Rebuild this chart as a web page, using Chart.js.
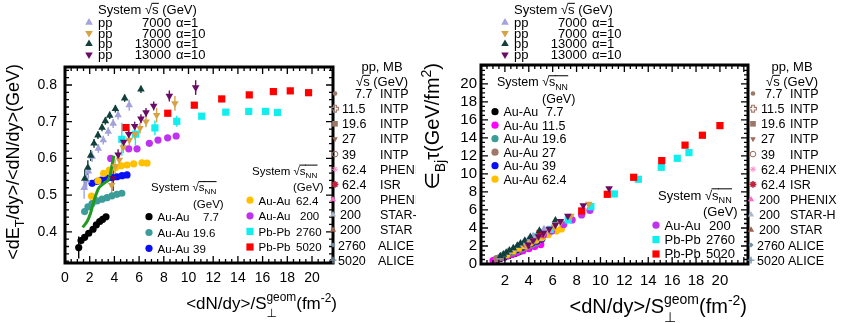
<!DOCTYPE html>
<html>
<head>
<meta charset="utf-8">
<title>Transverse energy per particle and Bjorken energy density</title>
<script src="https://cdn.jsdelivr.net/npm/chart.js@4.4.1/dist/chart.umd.min.js"></script>
<style>
  body { margin: 0; background: #fff; }
  .panel { position: absolute; top: 0; }
</style>
</head>
<body>
<canvas id="left" class="panel" style="left:0;width:416px;height:323px" width="416" height="323"></canvas>
<canvas id="right" class="panel" style="left:416px;width:430px;height:323px" width="430" height="323"></canvas>
<script>
// ---------- left panel: <dE_T/dy>/<dN/dy> (GeV) vs <dN/dy>/S (fm^-2) ----------
const pp13a10_x = [3.9, 4.3, 4.75, 5.16, 5.64, 6.15, 6.56, 7.18, 8.45, 10.58];
const pp13a10_y = [0.546, 0.61, 0.645, 0.666, 0.688, 0.708, 0.725, 0.743, 0.77, 0.793];
const pp13a10_e = [0.035, 0.015, 0.012, 0.012, 0.012, 0.012, 0.012, 0.012, 0.015, 0.02];
const pp13a1_x = [1.6, 1.85, 2.08, 2.35, 2.67, 3.0, 3.27, 3.62, 4.08, 4.83, 6.15];
const pp13a1_y = [0.545, 0.575, 0.608, 0.641, 0.663, 0.684, 0.702, 0.717, 0.735, 0.764, 0.788];
const pp13a1_e = [0.025, 0.02, 0.015, 0.012, 0.01, 0.01, 0.01, 0.01, 0.01, 0.01, 0.01];
const pp7a10_x = [3.78, 4.05, 4.4, 4.72, 5.21, 5.67, 6.07, 6.56, 7.42, 8.9];
const pp7a10_y = [0.527, 0.578, 0.596, 0.63, 0.65, 0.666, 0.682, 0.7, 0.718, 0.75];
const pp7a10_e = [0.035, 0.02, 0.02, 0.015, 0.015, 0.015, 0.015, 0.015, 0.02, 0.02];
const pp7a1_x = [1.55, 1.75, 1.9, 2.2, 2.7, 3.1, 3.5, 3.9, 4.3, 5.2];
const pp7a1_y = [0.52, 0.54, 0.565, 0.605, 0.627, 0.65, 0.673, 0.695, 0.718, 0.745];
const pp7a1_e = [0.03, 0.025, 0.02, 0.015, 0.012, 0.012, 0.012, 0.012, 0.012, 0.015];
const ppMB_x = [1.43, 1.79, 2.06, 2.25, 2.46, 2.73, 3.14, 3.49, 3.68, 3.81, 3.95];
const ppMB_y = [0.412, 0.428, 0.45, 0.473, 0.496, 0.519, 0.532, 0.541, 0.559, 0.582, 0.607];
const pb5020_x = [4.94, 8.32, 10.47, 12.69, 14.92, 16.87, 18.24, 19.72];
const pb5020_y = [0.684, 0.723, 0.745, 0.762, 0.773, 0.782, 0.784, 0.779];
const pb2760_x = [4.6, 5.7, 7.28, 9.05, 11.07, 13.02, 14.88, 16.23, 17.2];
const pb2760_y = [0.652, 0.666, 0.683, 0.701, 0.715, 0.726, 0.728, 0.728, 0.725];
const pb2760_e = [0.045, 0.03, 0.02, 0.015, 0.008, 0.008, 0.008, 0.008, 0.008];
const au200_x = [3.7, 5.16, 5.83, 6.83, 7.53, 8.31, 9.0];
const au200_y = [0.6, 0.626, 0.626, 0.641, 0.65, 0.656, 0.661];
const au62_x = [2.15, 2.67, 3.13, 3.6, 4.1, 4.55, 5.02, 5.56, 6.23, 6.64];
const au62_y = [0.497, 0.539, 0.559, 0.568, 0.575, 0.58, 0.582, 0.585, 0.588, 0.587];
const au39_x = [2.19, 2.59, 2.94, 3.4, 3.8, 4.21, 4.62, 5.02];
const au39_y = [0.532, 0.537, 0.541, 0.546, 0.548, 0.55, 0.553, 0.555];
const au19_x = [1.59, 1.86, 2.19, 2.59, 3.0, 3.4, 3.8, 4.2, 4.6];
const au19_y = [0.455, 0.468, 0.477, 0.484, 0.489, 0.493, 0.498, 0.502, 0.505];
const au7_x = [1.11, 1.3, 1.59, 1.92, 2.27, 2.54, 2.81, 3.05, 3.32];
const au7_y = [0.357, 0.376, 0.385, 0.396, 0.407, 0.419, 0.428, 0.434, 0.441];
const au7_e = [0.03, 0.01, 0, 0, 0, 0, 0, 0, 0];

// ---------- right panel: Bjorken energy density x tau (GeV/fm^2) ----------
const rPp13a10_x = [3.95, 4.36, 4.81, 5.23, 5.71, 6.23, 6.65, 7.27, 8.56, 10.72];
const rPp13a10_y = [2.13, 2.62, 3.06, 3.44, 3.88, 4.35, 4.76, 5.33, 6.51, 8.39];
const rPp7a10_x = [3.83, 4.1, 4.46, 4.78, 5.28, 5.74, 6.15, 6.65, 7.52, 9.02];
const rPp7a10_y = [1.99, 2.34, 2.62, 2.97, 3.39, 3.78, 4.14, 4.59, 5.33, 6.68];
const rPp13a1_x = [1.62, 1.87, 2.11, 2.38, 2.7, 3.04, 3.31, 3.67, 4.13, 4.89, 6.23];
const rPp13a1_y = [0.87, 1.06, 1.26, 1.51, 1.77, 2.05, 2.3, 2.6, 3.0, 3.69, 4.85];
const rPp7a1_x = [1.57, 1.77, 1.92, 2.23, 2.74, 3.14, 3.55, 3.95, 4.36, 5.27];
const rPp7a1_y = [0.81, 0.95, 1.07, 1.33, 1.69, 2.02, 2.36, 2.71, 3.09, 3.87];
const rPb5020_x = [4.95, 8.43, 10.57, 12.78, 15.13, 17.08, 18.53, 20.0];
const rPb5020_y = [3.4, 5.89, 7.74, 9.63, 11.48, 13.2, 14.3, 15.37];
const rPb2760_x = [4.65, 5.8, 7.3, 9.2, 11.16, 13.17, 15.09, 16.43, 17.41];
const rPb2760_y = [3.05, 3.85, 4.89, 6.37, 7.78, 9.41, 10.74, 11.74, 12.37];
const rAu200_x = [3.75, 5.23, 5.9, 6.92, 7.63, 8.42, 9.12];
const rAu200_y = [2.22, 3.23, 3.65, 4.38, 4.89, 5.45, 5.95];
const rAu62_x = [2.18, 2.7, 3.17, 3.65, 4.15, 4.61, 5.09, 5.63, 6.31, 6.73];
const rAu62_y = [1.07, 1.44, 1.75, 2.04, 2.36, 2.64, 2.92, 3.25, 3.66, 3.9];
const rAu39_x = [2.22, 2.62, 2.98, 3.44, 3.85, 4.26, 4.68, 5.09];
const rAu39_y = [1.17, 1.39, 1.59, 1.86, 2.08, 2.32, 2.55, 2.79];
const rAu27_x = [1.3, 1.6, 1.9, 2.3, 2.7, 3.1, 3.5, 3.9, 4.3, 4.7];
const rAu27_y = [0.6, 0.75, 0.91, 1.12, 1.33, 1.54, 1.76, 1.97, 2.19, 2.41];
const rAu19_x = [1.61, 1.88, 2.22, 2.62, 3.04, 3.44, 3.85, 4.25, 4.66];
const rAu19_y = [0.72, 0.87, 1.04, 1.25, 1.47, 1.68, 1.89, 2.11, 2.32];
const rAu11_x = [1.0, 1.4, 1.8, 2.2, 2.6, 3.0, 3.5, 4.0, 4.5, 5.0];
const rAu11_y = [0.38, 0.55, 0.72, 0.9, 1.07, 1.25, 1.47, 1.7, 1.93, 2.16];
const rAu7_x = [1.12, 1.32, 1.61, 1.95, 2.3, 2.57, 2.85, 3.09, 3.36];
const rAu7_y = [0.4, 0.49, 0.61, 0.76, 0.92, 1.06, 1.2, 1.32, 1.46];

// legend texts
const alphaRows = [['7000', 'α=1'], ['7000', 'α=10'], ['13000', 'α=1'], ['13000', 'α=10']];
const mbEnergies = ['7.7', '11.5', '19.6', '27', '39', '62.4', '62.4', '200', '200', '200', '2760', '5020'];
const mbSources = ['INTP', 'INTP', 'INTP', 'INTP', 'INTP', 'PHENIX', 'ISR', 'PHENIX', 'STAR-H', 'STAR', 'ALICE', 'ALICE'];

const FONT = '"Liberation Sans", Arial, "DejaVu Sans", sans-serif';

// marker looks
const M = {
  pp7a1:  { color: '#a3a3dc', style: 'triangle', r: 4.4 },
  pp7a10: { color: '#d6a244', style: 'triangle', rot: 180, r: 4.4 },
  pp13a1: { color: '#11403b', style: 'triangle', r: 4.4 },
  pp13a10:{ color: '#6a0b66', style: 'triangle', rot: 180, r: 4.4 },
  au7:    { color: '#000000', style: 'circle', r: 3.6 },
  au11:   { color: '#ff00ff', style: 'circle', r: 3.6 },
  au19:   { color: '#3c9c98', style: 'circle', r: 3.6 },
  au27:   { color: '#a07868', style: 'circle', r: 3.6 },
  au39:   { color: '#0a10f5', style: 'circle', r: 3.6 },
  au62:   { color: '#ffc000', style: 'circle', r: 3.6 },
  au200:  { color: '#c032f0', style: 'circle', r: 3.6 },
  pb2760: { color: '#11eeee', style: 'rect', r: 5.1 },
  pb5020: { color: '#ff0000', style: 'rect', r: 5.1 }
};
const mbMarks = [
  { color: '#9c7868', style: 'circle', r: 2.3 },
  { color: '#a87c6c', style: 'ocross', r: 3.4, bw: 1.2 },
  { color: '#9c7868', style: 'rect', r: 4 },
  { color: '#9c6a5a', style: 'triangle', rot: 180, r: 3.2 },
  { color: '#9c6a5a', style: 'circle', r: 2.8, open: true, bw: 1 },
  { color: '#ff8acb', style: 'star', r: 3, bw: 1 },
  { color: '#c4203c', style: 'star', r: 3.4, bw: 1.6 },
  { color: '#ff6ac4', style: 'triangle', r: 3.6 },
  { color: '#a9b9cb', style: 'triangle', r: 3.6 },
  { color: '#a0604e', style: 'triangle', r: 3.6 },
  { color: '#6f90a6', style: 'rectRot', r: 2.6 },
  { color: '#6f90a6', style: 'cross', r: 3.4, bw: 1.4 }
];

function set(m, xs, ys, errs) {
  return {
    data: xs.map((x, i) => ({ x, y: ys[i] })),
    pointStyle: m.style, pointRotation: m.rot || 0, pointRadius: m.r,
    pointBackgroundColor: m.color, pointBorderColor: m.color, pointBorderWidth: 0,
    borderColor: m.color, showLine: false, yErr: errs
  };
}

function mark(ctx, m, x, y) {
  ctx.save();
  ctx.fillStyle = m.open ? 'rgba(0,0,0,0)' : m.color;
  ctx.strokeStyle = m.color;
  ctx.lineWidth = m.bw || 1;
  if (m.style === 'ocross') {
    const a = m.r, b = m.r * 0.4;
    const p = [[-b, -a], [b, -a], [b, -b], [a, -b], [a, b], [b, b], [b, a], [-b, a], [-b, b], [-a, b], [-a, -b], [-b, -b]];
    ctx.beginPath();
    p.forEach(([dx, dy], i) => i ? ctx.lineTo(x + dx, y + dy) : ctx.moveTo(x + dx, y + dy));
    ctx.closePath();
    ctx.stroke();
  } else {
    Chart.helpers.drawPoint(ctx, { pointStyle: m.style, rotation: m.rot || 0, radius: m.r, borderWidth: m.bw || 0 }, x, y);
  }
  ctx.restore();
}

// text with sub/superscripts; parts are [text, kind]
function rich(ctx, x, y, parts, size, measureOnly) {
  let cx = x;
  for (const [t, k] of parts) {
    if (k === 'stack') {
      ctx.font = (size * 0.7) + 'px ' + FONT;
      const w = Math.max(ctx.measureText(t[0]).width, ctx.measureText(t[1]).width);
      if (!measureOnly) {
        ctx.fillText(t[0], cx, y - size * 0.45);
        ctx.fillText(t[1], cx, y + size * 0.45);
      }
      cx += w;
      continue;
    }
    const small = k === 'sub' || k === 'sup' || k === 'osub';
    const s = small ? size * 0.7 : size;
    const dy = (k === 'sub' || k === 'osub') ? size * 0.28 : k === 'sup' ? -size * 0.42 : 0;
    ctx.font = s + 'px ' + FONT;
    const w = ctx.measureText(t).width;
    if (!measureOnly) {
      ctx.fillText(t, cx, y + dy);
      if (k === 'over' || k === 'osub') ctx.fillRect(cx - 0.5, y - size * 0.86, w + 0.8, 1);
    }
    cx += w;
  }
  return cx - x;
}
function txt(ctx, s, x, y, size, align) {
  ctx.font = size + 'px ' + FONT;
  ctx.textAlign = align || 'left';
  ctx.fillText(s, x, y);
  ctx.textAlign = 'left';
}
function htitle(ctx, parts, size, endX, y) {
  const w = rich(ctx, 0, 0, parts, size, true);
  rich(ctx, endX - w, y, parts, size);
}
function vtitle(ctx, parts, size, bx, topY) {
  const w = rich(ctx, 0, 0, parts, size, true);
  ctx.save();
  ctx.translate(bx, topY + w);
  ctx.rotate(-Math.PI / 2);
  rich(ctx, 0, 0, parts, size);
  ctx.restore();
}

const SQRT_S = [['System '], ['√'], ['s', 'over'], [' (GeV)']];
const SQRT_SNN = [['System '], ['√'], ['s', 'over'], ['NN', 'osub']];

function alphaLegend(ctx) {
  rich(ctx, 98, 14, SQRT_S, 13);
  const ms = [M.pp7a1, M.pp7a10, M.pp13a1, M.pp13a10];
  alphaRows.forEach((r, i) => {
    const y = 22.5 + 10.7 * i;
    mark(ctx, ms[i], 89, y);
    txt(ctx, 'pp', 98, y + 4.5, 13);
    txt(ctx, r[0], 171, y + 4.5, 13, 'right');
    txt(ctx, r[1], 176, y + 4.5, 13);
  });
}

function mbLegend(ctx, mx, numX, nameX) {
  const head = nameX + 2;
  txt(ctx, 'pp, MB', head, 71, 13, 'center');
  const w = rich(ctx, 0, 0, [['√'], ['s', 'over'], [' (GeV)']], 13, true);
  rich(ctx, head - w / 2, 86, [['√'], ['s', 'over'], [' (GeV)']], 13);
  mbEnergies.forEach((e, i) => {
    const y = 93.5 + 15.15 * i;
    const late = i >= 7;
    mark(ctx, mbMarks[i], late ? mx - 2 : mx, y);
    const nx = e === '7.7' ? nameX - 25 : i >= 10 ? numX - 4 : late ? numX - 2 : numX;
    txt(ctx, e, nx, y + 4.5, 12.5);
    txt(ctx, mbSources[i], i >= 10 ? nameX - 2 : nameX, y + 4.5, 12.5);
  });
}

function systemLegend(ctx, x, y, rows, valX, step, gevX, size) {
  rich(ctx, x, y, SQRT_SNN, size);
  txt(ctx, '(GeV)', gevX, y + 16.5, size);
  rows.forEach((r, i) => {
    const ry = y + 30 + step * i;
    mark(ctx, r[0], x - 2, ry - 4.3);
    txt(ctx, r[1], x + 6.5, ry, size);
    txt(ctx, r[2], valX + (r[3] || 0), ry, size);
  });
}

// inward ticks on all four sides and a heavy frame
const rootFrame = {
  id: 'rootFrame',
  afterDraw(chart, args, o) {
    const { ctx, chartArea: a, scales: { x, y } } = chart;
    ctx.save();
    ctx.strokeStyle = '#000';
    ctx.lineWidth = 1.3;
    ctx.beginPath();
    const isMajor = (v, step) => Math.abs(v / step - Math.round(v / step)) < 1e-6;
    for (let v = Math.ceil(x.min / o.xMinor) * o.xMinor; v <= x.max + 1e-9; v += o.xMinor) {
      const px = x.getPixelForValue(v), len = isMajor(v, o.xMajor) ? 7 : 4;
      ctx.moveTo(px, a.bottom); ctx.lineTo(px, a.bottom - len);
      ctx.moveTo(px, a.top); ctx.lineTo(px, a.top + len);
    }
    for (let v = Math.ceil(y.min / o.yMinor - 1e-6) * o.yMinor; v <= y.max + 1e-9; v += o.yMinor) {
      const py = y.getPixelForValue(v), len = isMajor(v, o.yMajor) ? 7 : 4;
      ctx.moveTo(a.left, py); ctx.lineTo(a.left + len, py);
      ctx.moveTo(a.right, py); ctx.lineTo(a.right - len, py);
    }
    ctx.stroke();
    ctx.lineWidth = 3;
    ctx.strokeRect(a.left, a.top, a.right - a.left, a.bottom - a.top);
    ctx.restore();
    ctx.fillStyle = '#000';
    o.text(ctx);
  }
};

const errorBars = {
  id: 'errorBars',
  beforeDatasetsDraw(chart) {
    const { ctx, chartArea: a } = chart;
    const ys = chart.scales.y;
    ctx.save();
    ctx.beginPath();
    ctx.rect(a.left, a.top, a.right - a.left, a.bottom - a.top);
    ctx.clip();
    chart.data.datasets.forEach((ds, i) => {
      if (!ds.yErr) return;
      const meta = chart.getDatasetMeta(i);
      ctx.strokeStyle = ds.borderColor;
      ctx.lineWidth = 1.4;
      meta.data.forEach((pt, j) => {
        const e = ds.yErr[j];
        if (!e) return;
        const v = ds.data[j].y;
        ctx.beginPath();
        ctx.moveTo(pt.x, ys.getPixelForValue(v - e));
        ctx.lineTo(pt.x, ys.getPixelForValue(v + e));
        ctx.stroke();
      });
    });
    ctx.restore();
  }
};

function axis(min, max, step, size, pad, fit, fmt) {
  return {
    type: 'linear', min, max,
    afterFit: fit,
    grid: { display: false, drawTicks: false },
    border: { display: false },
    ticks: {
      stepSize: step, includeBounds: false, padding: pad, maxRotation: 0, autoSkip: false,
      color: '#000', font: { family: FONT, size }, callback: fmt
    }
  };
}

new Chart(document.getElementById('left'), {
  type: 'scatter',
  data: {
    datasets: [
      set(M.pp13a10, pp13a10_x, pp13a10_y, pp13a10_e),
      set(M.pp13a1, pp13a1_x, pp13a1_y, pp13a1_e),
      set(M.pp7a10, pp7a10_x, pp7a10_y, pp7a10_e),
      set(M.pp7a1, pp7a1_x, pp7a1_y, pp7a1_e),
      {
        data: ppMB_x.map((x, i) => ({ x, y: ppMB_y[i] })),
        showLine: true, borderColor: '#229a22', borderWidth: 3, pointRadius: 0, tension: 0.3
      },
      set(M.pb5020, pb5020_x, pb5020_y),
      set(M.pb2760, pb2760_x, pb2760_y, pb2760_e),
      set(M.au200, au200_x, au200_y),
      set(M.au62, au62_x, au62_y),
      set(M.au39, au39_x, au39_y),
      set(M.au19, au19_x, au19_y),
      set(M.au7, au7_x, au7_y, au7_e)
    ]
  },
  options: {
    responsive: false, animation: false, events: [],
    layout: { padding: { top: 67, right: 83, left: 0, bottom: 0 } },
    plugins: {
      legend: { display: false }, tooltip: { enabled: false },
      rootFrame: {
        xMajor: 2, xMinor: 0.5, yMajor: 0.1, yMinor: 0.02,
        text(ctx) {
          vtitle(ctx, [['<dE'], ['T', 'sub'], ['/dy>/<dN/dy>(GeV)']], 18, 19, 64);
          htitle(ctx, [['<dN/dy>/S'], [['geom', '⊥'], 'stack'], ['(fm'], ['-2', 'sup'], [')']], 17, 337, 309);
          alphaLegend(ctx);
          systemLegend(ctx, 151, 191, [
            [M.au7, 'Au-Au', '7.7', 10], [M.au19, 'Au-Au', '19.6'], [M.au39, 'Au-Au', '39']
          ], 193, 15.8, 193, 11.5);
          systemLegend(ctx, 252, 174.5, [
            [M.au62, 'Au-Au', '62.4'], [M.au200, 'Au-Au', '200', 4],
            [M.pb2760, 'Pb-Pb', '2760'], [M.pb5020, 'Pb-Pb', '5020']
          ], 296, 15.6, 293, 11.5);
          mbLegend(ctx, 335, 342, 380);
        }
      }
    },
    scales: {
      x: axis(0, 21.7, 2, 14, 7, s => { s.height = 60; }, v => v),
      y: axis(0.315, 0.849, 0.1, 14, 8, s => { s.width = 65; }, v => v.toFixed(1))
    }
  },
  plugins: [errorBars, rootFrame]
});

new Chart(document.getElementById('right'), {
  type: 'scatter',
  data: {
    datasets: [
      set(M.pp13a10, rPp13a10_x, rPp13a10_y),
      set(M.pp7a10, rPp7a10_x, rPp7a10_y),
      set(M.pp13a1, rPp13a1_x, rPp13a1_y),
      set(M.pp7a1, rPp7a1_x, rPp7a1_y),
      set(M.pb5020, rPb5020_x, rPb5020_y),
      set(M.pb2760, rPb2760_x, rPb2760_y),
      set(M.au200, rAu200_x, rAu200_y),
      set(M.au62, rAu62_x, rAu62_y),
      set(M.au39, rAu39_x, rAu39_y),
      set(M.au27, rAu27_x, rAu27_y),
      set(M.au19, rAu19_x, rAu19_y),
      set(M.au11, rAu11_x, rAu11_y),
      set(M.au7, rAu7_x, rAu7_y)
    ]
  },
  options: {
    responsive: false, animation: false, events: [],
    layout: { padding: { top: 65, right: 98, left: 0, bottom: 0 } },
    plugins: {
      legend: { display: false }, tooltip: { enabled: false },
      rootFrame: {
        xMajor: 2, xMinor: 0.5, yMajor: 2, yMinor: 0.5,
        text(ctx) {
          vtitle(ctx, [['∈'], ['Bj', 'sub'], ['τ(GeV/fm'], ['2', 'sup'], [')']], 20, 23, 63);
          htitle(ctx, [['<dN/dy>/S'], [['geom', '⊥'], 'stack'], ['(fm'], ['-2', 'sup'], [')']], 20, 331, 313);
          alphaLegend(ctx);
          systemLegend(ctx, 81, 86, [
            [M.au7, 'Au-Au', '7.7', 4], [M.au11, 'Au-Au', '11.5'], [M.au19, 'Au-Au', '19.6'],
            [M.au27, 'Au-Au', '27'], [M.au39, 'Au-Au', '39'], [M.au62, 'Au-Au', '62.4']
          ], 126, 13.5, 126, 12.5);
          systemLegend(ctx, 242, 199.5, [
            [M.au200, 'Au-Au', '200', 3], [M.pb2760, 'Pb-Pb', '2760'], [M.pb5020, 'Pb-Pb', '5020']
          ], 290, 14.4, 287, 13);
          mbLegend(ctx, 337, 345, 374);
        }
      }
    },
    scales: {
      x: axis(0, 22.35, 2, 15, 8, s => { s.height = 59; }, v => (v >= 2 && v <= 20) ? v : ''),
      y: axis(0, 22.1, 2, 15, 4, s => { s.width = 65; }, v => v <= 20 ? v : '')
    }
  },
  plugins: [errorBars, rootFrame]
});
</script>
</body>
</html>
